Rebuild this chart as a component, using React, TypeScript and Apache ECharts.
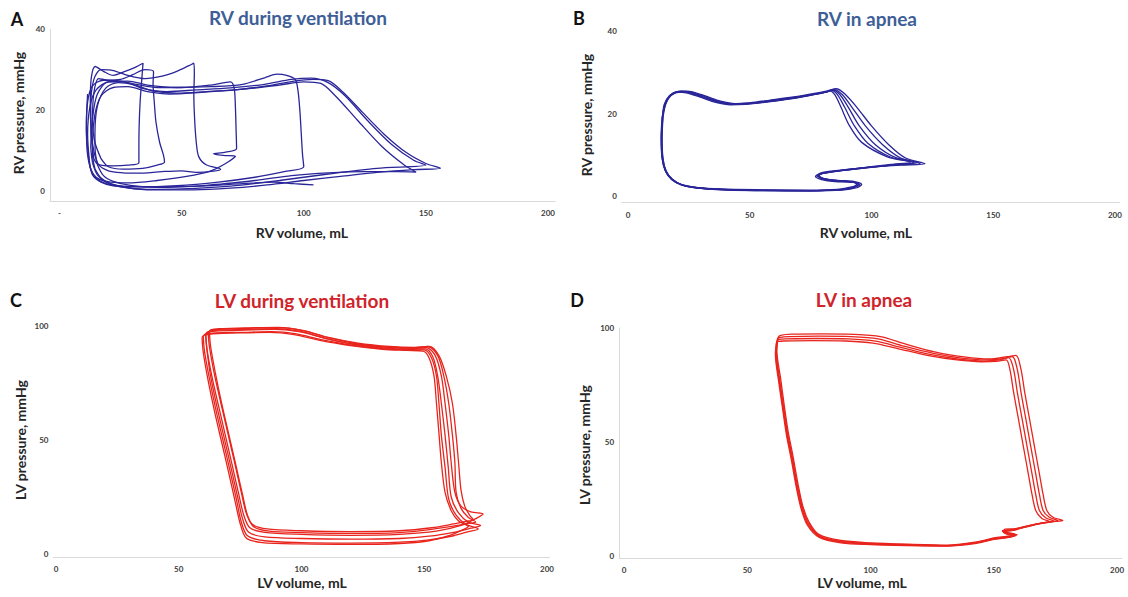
import React, { useEffect, useRef } from "react";
import * as echarts from "echarts";

// ---------- Panel A: RV during ventilation (volume mL, pressure mmHg) ----------
const rvVent1: number[][] = [[14.5,5.5],[17,3.2],[21,1.8],[28,0.8],[38,0.3],[55,0.3],[70,0.7],[85,1.5],[100,2.6],[115,3.6],[130,4.6],[145,5.3],[156,5.6],[150,6.8],[142,9.5],[133,14],[124,19.5],[116,24.5],[110,27.3],[104,27.6],[96,27.2],[85,26],[72,25],[58,24.4],[45,24],[36,24.6],[28,25.8],[22,25.6],[17,23.5],[14.5,19],[13.5,12],[13.5,9],[14.5,5.5]];
const rvVent2: number[][] = [[15.5,6.5],[18,3.8],[22,2.4],[29,1.4],[40,0.9],[60,1.4],[80,2.6],[95,3.8],[110,4.5],[125,4.8],[138,4.8],[146,4.7],[141,6.5],[132,11],[122,17.5],[113,23.5],[107,26.6],[100,27],[90,26.2],[75,25.2],[60,24.6],[48,24.2],[38,24.8],[30,26.4],[24,26.8],[19,25.5],[15.5,21],[14.5,14],[14.6,10],[15.5,6.5]];
const rvVent3: number[][] = [[13.5,7],[15.5,4],[19,2.2],[25,1],[35,0.4],[50,0.5],[70,1.2],[90,2.6],[110,4.2],[130,5.6],[150,6.4],[145,7.6],[136,11.5],[126,17.5],[117,23.5],[110,26.8],[103,27.9],[95,27.6],[84,26.4],[70,25.5],[56,25],[44,24.6],[34,25.4],[26,27],[20,27],[15.5,24],[13.5,18],[12.8,11],[13.5,7]];
const rvVent4: number[][] = [[12.3,7],[13.5,4],[17,2.2],[22,1.3],[32,1],[48,1.3],[65,2.2],[80,3.4],[92,4.8],[100,6],[99.5,9],[99,14],[98.4,20],[97.6,25],[96.5,27.6],[93,28.6],[89,28.9],[84,28],[75,26.4],[62,25.8],[48,25.6],[36,26.2],[28,27.2],[20,27],[15,25],[12.5,21],[11.5,14],[12.3,7]];
const rvVent5: number[][] = [[11.8,9],[13,5],[16,3],[21,2.2],[28,2],[40,2.6],[52,3.6],[62,5],[68,6.8],[72,8.6],[67,8.8],[63,9.2],[68,9.6],[72.5,10.5],[72.3,15],[72,21],[71.5,25.5],[70,27],[62,26.2],[50,25.6],[40,25.6],[32,26.3],[25,27.2],[18,27.4],[13.5,26],[11.5,22],[11,15],[11.8,9]];
const rvVent6: number[][] = [[14,10],[16,6.5],[20,5],[26,4.5],[32,4.4],[42,4.8],[50,5],[56,4.6],[63,4.9],[66,5.4],[60,6.5],[57,8.5],[56,12],[55.3,18],[55,24],[55.2,29],[55,31.6],[53,31],[48,29.6],[42,28.4],[35,27.8],[28,28.6],[22,29.8],[17,30],[14,27.5],[12.8,21],[13,14],[14,10]];
const rvVent7: number[][] = [[17,8],[20,6],[26,5.4],[34,5.6],[40,6.4],[43,7.2],[42.5,9],[41,12],[39.5,17],[38.8,22],[38.3,26.5],[38.5,29.5],[35,30],[30,28.8],[25,27.6],[20,27.4],[16,27.8],[14,24],[13.5,17],[14.5,12],[17,8]];
const rvVent8: number[][] = [[14,8],[16,6.5],[22,6.2],[28,6.4],[32.5,7],[32.5,10],[32.6,16],[33,22],[33.6,27],[34.2,31.6],[31,30.6],[26,29.4],[22,28.6],[18,29.6],[14.6,30.8],[13,28],[12.6,22],[13,14],[14,8]];
const rvVentTail: number[][] = [[11.5,24],[11,17],[11.3,10],[12.5,6],[15,3.2],[19,1.8],[26,1.2],[40,1],[58,1.2],[75,1.8],[88,2.2],[96,1.8],[104,1.5]];

// ---------- Panel B: RV in apnea ----------
const rvApnea1: number[][] = [[14.2,19],[13.8,14],[14.2,9],[15.5,6],[18,4],[22,2.7],[28,2],[38,1.5],[55,1.3],[75,1.2],[88,1.4],[94,2],[96,2.8],[93,3.5],[86,3.8],[80,4.3],[77.5,5],[80,5.7],[88,6.3],[100,7],[112,7.5],[122,7.8],[114,9.2],[107,12.5],[100,17],[94,21.5],[89,24.8],[85.5,26],[82,25.5],[76,24.8],[68,24],[58,23.2],[50,22.6],[44,22.4],[38,23],[32,24.2],[26,25.3],[22,25.5],[18,24.6],[15.5,22.5],[14.2,19]];
const rvApnea2: number[][] = [[14.4,19.2],[14,14],[14.4,9],[15.7,6],[18.3,4],[22.5,2.6],[29,1.9],[40,1.5],[56,1.3],[75,1.3],[87,1.5],[93,2.1],[95,2.9],[92,3.4],[86,3.6],[80.5,4.2],[78.5,4.9],[81,5.6],[89,6.3],[101,7.1],[112,7.6],[120,7.9],[112,9.2],[104.5,12.5],[97.5,17],[92,21.5],[88,24.6],[84.8,25.8],[81.5,25.2],[75.5,24.6],[67.5,23.8],[57.5,23],[49.5,22.5],[43.5,22.3],[37.5,22.9],[31.5,24.1],[25.5,25.2],[21.5,25.3],[17.8,24.5],[15.6,22.4],[14.4,19.2]];
const rvApnea3: number[][] = [[14,19],[13.6,14.2],[14,9.2],[15.3,6.2],[17.8,4.2],[21.8,2.8],[28,2.1],[38,1.7],[55,1.5],[74,1.4],[86,1.6],[92,2.2],[95.5,2.6],[93,3.3],[85,3.5],[79.5,4],[77,4.7],[79.5,5.4],[87,6.1],[99,6.9],[110,7.6],[119,8.1],[110,9.3],[101.5,12.5],[95,17],[90.5,21.5],[87,24.6],[84.2,25.7],[81,25.1],[75,24.5],[67,23.7],[57,22.9],[49,22.4],[43,22.2],[37,22.8],[31,24],[25,25.1],[21,25.2],[17.5,24.3],[15.3,22.2],[14,19]];
const rvApnea4: number[][] = [[14.3,19.1],[13.9,14.1],[14.3,9.1],[15.6,6.1],[18.1,4.1],[22.2,2.7],[28.5,2],[39,1.6],[55,1.4],[74,1.3],[86.5,1.5],[92.5,2],[94.5,2.7],[91.5,3.4],[85.5,3.7],[80,4.2],[78,4.9],[80.5,5.6],[88.5,6.2],[100,7],[110,7.6],[117.5,8.1],[108,9.4],[98.5,12.8],[93,17],[89,21.5],[86,24.6],[83.6,25.6],[80.5,25.1],[74.5,24.4],[66.5,23.6],[56.5,22.8],[48.5,22.3],[42.5,22.2],[36.5,22.8],[30.5,24],[24.5,25.1],[20.5,25.3],[17.3,24.4],[15.1,22.3],[14.3,19.1]];
const rvApnea5: number[][] = [[14.1,18.9],[13.7,14],[14.1,9],[15.4,6],[17.9,4],[21.9,2.7],[28.2,2],[38.5,1.6],[55.5,1.4],[74.5,1.3],[86,1.5],[92,2.1],[94,2.9],[91,3.5],[85,3.8],[79.8,4.3],[78.2,5],[81,5.6],[89,6.3],[100,7.1],[109,7.7],[116,8.2],[106.5,9.5],[96,13],[91,17],[87.5,21.5],[85,24.5],[83,25.5],[80,25],[74,24.3],[66,23.5],[56,22.7],[48,22.2],[42,22.1],[36,22.7],[30,23.9],[24,25],[20,25.2],[17,24.3],[14.9,22.2],[14.1,18.9]];

// ---------- Panel C: LV during ventilation ----------
const lvVent1: number[][] = [[61,96.5],[61.5,90],[63.5,78],[66,66],[69,52],[72,38],[74.5,26],[76.5,17],[79,11.5],[85,9.5],[100,8.6],[120,8.2],[140,8.6],[155,10],[165,12.5],[171,15.5],[174,17.5],[169,18.5],[165,21],[162.5,27],[161,40],[160,52],[158.5,66],[157,78],[154.5,87],[151,90.5],[145,90.2],[135,90.6],[122,92],[110,94.5],[100,97.5],[90,98.8],[78,98.5],[66,98.2],[62,97.5],[61,96.5]];
const lvVent2: number[][] = [[60,95.5],[60.5,89],[62.5,77],[65,64],[68,50],[71,36],[73.5,24],[75.5,14],[78,8],[85,5.8],[100,5],[120,4.8],[140,5.2],[152,6.2],[162,8],[168,9.8],[172,11],[167,13],[163,17],[160,24],[158.5,38],[157,52],[156,66],[155,78],[153,86],[150,89.5],[144,89.6],[134,90],[121,91.5],[108,94],[98,96.5],[88,97.5],[76,97.2],[65,97],[61,96.5],[60,95.5]];
const lvVent3: number[][] = [[62,97],[62.5,91],[64.5,79],[67,67],[70,53],[73,39],[75.5,27],[77.5,18],[80,13],[86,11],[100,10.2],[120,9.8],[140,10.2],[153,11.5],[162,13.2],[167,14.3],[170,15],[168.5,17],[166.5,21],[165,28],[164,40],[163,52],[161.5,66],[159,78],[156,87],[152,91],[146,90.6],[136,91],[123,92.5],[111,95],[101,98],[91,99.3],[79,99],[67,98.5],[63,98],[62,97]];
const lvVent4: number[][] = [[61,96],[61.5,89.5],[63,78],[65.5,65],[68.5,51],[71.5,37],[74,25],[76,15.5],[78.5,9.5],[85,7.5],[100,6.8],[120,6.5],[140,6.8],[152,7.8],[162,9.5],[169,11.3],[173,12.5],[168,14],[164,18],[161,25],[159.8,38],[158.5,52],[157,66],[155.5,78],[153.5,86.5],[150.5,90],[144,89.8],[134,90.3],[121,92],[109,94.8],[99,97.5],[89,98.5],[77,98.2],[65,97.8],[61.5,97],[61,96]];
const lvVent5: number[][] = [[59.5,95],[60,88.5],[62,76],[64.5,63],[67.5,49],[70.5,35],[73,23],[75,13.5],[77.5,7],[84,5],[100,4.4],[120,4.2],[140,4.6],[152,5.8],[160,8],[165,10.3],[168,12],[164,14.5],[161,19],[158.5,27],[157,40],[156,53],[155,66],[154,78],[152,86],[149.5,89],[143,89.3],[133,89.8],[120,91.4],[107,93.8],[97,96.2],[87,97.2],[75,97],[64,96.6],[60.5,96],[59.5,95]];
const lvVent6: number[][] = [[62.5,97.5],[63,91],[65,79],[67.5,66],[70.5,52],[73.5,38],[76,26],[78,17],[80.5,12],[87,10],[100,9.4],[120,9],[140,9.4],[153,10.8],[163,12.4],[168,13.4],[171,14],[168,16],[165,20],[163,27],[162.5,40],[161.5,52],[160,66],[158,78],[155.5,87],[151.5,91],[145.5,90.4],[135.5,90.8],[122.5,92.3],[110.5,95],[100.5,98],[90.5,99.4],[78.5,99.2],[66.5,98.8],[63,98.3],[62.5,97.5]];

// ---------- Panel D: LV in apnea ----------
const lvApnea1: number[][] = [[62.5,96],[62,90],[63.5,78],[65,66],[66.5,55],[68.5,44],[70.5,32],[72.5,22],[75,15],[79,9.5],[88,6.8],[100,5.8],[115,5.2],[131,4.8],[143,6.2],[150,7.9],[155,8.6],[159.5,9.3],[155,10.4],[153.5,11.2],[158,11.5],[161,12.3],[168,14],[173,15],[178,15.6],[174,17],[171.5,20],[170,27],[168.5,36],[166.5,48],[164.5,60],[162.5,72],[161,82],[159,88],[155.5,87.4],[148,86.4],[138,87.3],[126,89.5],[114,93],[104,96.2],[93,97.2],[80,97.4],[68,97.3],[63.5,96.8],[62.5,96]];
const lvApnea2: number[][] = [[62.2,95.2],[61.8,89.5],[63.2,77],[64.8,65],[66.3,54],[68.3,43],[70.3,31],[72.3,21.5],[74.8,14.5],[79,9],[88,6.4],[100,5.5],[115,5],[131,4.6],[143,6],[150,7.7],[155.5,8.4],[158.5,9.6],[154,10.6],[154.5,11.8],[159,11.9],[162,12.8],[168,14.2],[172,14.9],[176,15.5],[172.5,17],[170,20],[168.5,27],[167,36],[165,48],[163,60],[161,72],[159.5,82],[157.5,87.5],[154,86.6],[147,86],[137,86.8],[125,89],[113,92.2],[103,95.2],[92,96.2],[79,96.4],[67,96.2],[63,95.8],[62.2,95.2]];
const lvApnea3: number[][] = [[62,94.4],[61.6,89],[63,76.5],[64.6,64.5],[66.1,53.5],[68.1,42.5],[70.1,30.5],[72.1,21],[74.6,14],[79,8.7],[88,6.1],[100,5.2],[115,4.8],[131,4.5],[143,5.8],[150,7.5],[156,8.2],[159,9],[154.5,10],[153.5,11],[157.5,11.6],[161,12.5],[167,14],[171,14.8],[174.5,15.3],[171,16.8],[168.5,20],[167,27],[165.5,36],[163.5,48],[161.5,60],[159.5,72],[158,82],[156,87],[152.5,86],[146,85.5],[136,86.3],[124,88.4],[112,91.6],[102,94.2],[91,95.2],[78,95.4],[66,95.2],[62.8,95],[62,94.4]];
const lvApnea4: number[][] = [[61.8,93.6],[61.4,88.5],[62.8,76],[64.4,64],[65.9,53],[67.9,42],[69.9,30],[71.9,20.5],[74.4,13.5],[79,8.3],[88,5.8],[100,5],[115,4.6],[131,4.4],[143,5.6],[150,7.3],[155,8],[158,8.8],[155,9.7],[154,10.6],[158,11.2],[160.5,12],[166,13.6],[170,14.5],[173,15],[169.5,16.5],[167,20],[165.5,27],[164,36],[162,48],[160,60],[158,72],[156.5,82],[155,86],[151,85.4],[145,85.2],[135,86],[123,88],[111,91],[101,93.4],[90,94.3],[77,94.5],[65,94.3],[62.5,94.1],[61.8,93.6]];

// ---------- Tick labels ----------
const volumeTicks = [0, 50, 100, 150, 200];
const rvPressureTicks = [0, 20, 40];
const lvPressureTicks = [0, 50, 100];

const FONT = "Lato, 'Open Sans', sans-serif";
const RV_LINE = "#2a2699";
const LV_LINE = "#e8241d";
const RV_TITLE = "#3e5e97";
const LV_TITLE = "#d0242a";

export default function App() {
  const ref = useRef<HTMLDivElement>(null);

  useEffect(() => {
    if (!ref.current) return;
    const chart = echarts.init(ref.current, null, { renderer: "svg" });

    const panels = [
      {
        cycles: [rvVent1, rvVent2, rvVent3, rvVent4, rvVent5, rvVent6, rvVent7, rvVent8, rvVentTail],
        color: RV_LINE,
        grid: { left: 50, top: 29.3, width: 505.3, height: 171.8 },
        x: [-3.9, 203], y: [-2.5, 40], yTicks: rvPressureTicks, zeroDash: true, showY: true,
      },
      {
        cycles: [rvApnea1, rvApnea2, rvApnea3, rvApnea4, rvApnea5],
        color: RV_LINE,
        grid: { left: 621.9, top: 31, width: 497.9, height: 171.6 },
        x: [-2.5, 202], y: [-1.6, 40], yTicks: rvPressureTicks, zeroDash: false, showY: false,
      },
      {
        cycles: [lvVent1, lvVent2, lvVent3, lvVent4, lvVent5, lvVent6],
        color: LV_LINE,
        grid: { left: 53.5, top: 326, width: 495.9, height: 231.4 },
        x: [-1, 201], y: [-1.5, 100], yTicks: lvPressureTicks, zeroDash: false, showY: false,
      },
      {
        cycles: [lvApnea1, lvApnea2, lvApnea3, lvApnea4],
        color: LV_LINE,
        grid: { left: 619.1, top: 328, width: 502.9, height: 230.3 },
        x: [-2, 202], y: [-1, 100], yTicks: lvPressureTicks, zeroDash: false, showY: true,
      },
    ];

    const tickLabel = {
      fontSize: 8,
      fontWeight: "bold" as const,
      color: "#3c3c3c",
      fontFamily: FONT,
    };

    const series: any[] = [];
    panels.forEach((p, i) => {
      p.cycles.forEach((c) => {
        series.push({
          type: "line",
          xAxisIndex: i,
          yAxisIndex: i,
          data: c,
          showSymbol: false,
          symbol: "none",
          smooth: 0.3,
          silent: true,
          lineStyle: { color: p.color, width: 1.3 },
        });
      });
    });

    const txt = (x: number, y: number, text: string, font: string, fill: string, rotation = 0) => ({
      type: "text",
      x,
      y,
      rotation,
      silent: true,
      style: {
        text,
        font,
        fill,
        align: "center",
        verticalAlign: "middle",
        textAlign: "center",
        textVerticalAlign: "middle",
      },
    });

    const option: any = {
      animation: false,
      backgroundColor: "#ffffff",
      grid: panels.map((p) => ({ ...p.grid, containLabel: false })),
      xAxis: panels.map((p, i) => ({
        type: "value",
        gridIndex: i,
        min: p.x[0],
        max: p.x[1],
        axisLine: { show: true, onZero: false, lineStyle: { color: "#d9d9d9", width: 1 } },
        axisTick: { show: false },
        splitLine: { show: false },
        axisLabel: {
          ...tickLabel,
          margin: 8,
          customValues: volumeTicks,
          formatter: (v: number) => (p.zeroDash && v === 0 ? "-" : String(v)),
        },
      })),
      yAxis: panels.map((p, i) => ({
        type: "value",
        gridIndex: i,
        min: p.y[0],
        max: p.y[1],
        axisLine: { show: p.showY, onZero: false, lineStyle: { color: "#d9d9d9", width: 1 } },
        axisTick: { show: false },
        splitLine: { show: false },
        axisLabel: {
          ...tickLabel,
          margin: 5,
          customValues: p.yTicks,
          formatter: (v: number) => String(v),
        },
      })),
      series,
      graphic: [
        txt(17, 19, "A", `bold 18px ${FONT}`, "#111111"),
        txt(579, 18, "B", `bold 18px ${FONT}`, "#111111"),
        txt(16, 300, "C", `bold 18px ${FONT}`, "#111111"),
        txt(577, 300, "D", `bold 18px ${FONT}`, "#111111"),
        txt(298, 17, "RV during ventilation", `bold 19px ${FONT}`, RV_TITLE),
        txt(867, 18, "RV in apnea", `bold 19px ${FONT}`, RV_TITLE),
        txt(302, 300, "LV during ventilation", `bold 19px ${FONT}`, LV_TITLE),
        txt(864, 299, "LV in apnea", `bold 19px ${FONT}`, LV_TITLE),
        txt(302, 232, "RV volume, mL", `bold 14px ${FONT}`, "#262626"),
        txt(866, 232, "RV volume, mL", `bold 14px ${FONT}`, "#262626"),
        txt(302, 582, "LV volume, mL", `bold 14px ${FONT}`, "#262626"),
        txt(862, 582, "LV volume, mL", `bold 14px ${FONT}`, "#262626"),
        txt(18, 113, "RV pressure, mmHg", `bold 14px ${FONT}`, "#262626", Math.PI / 2),
        txt(586, 115, "RV pressure, mmHg", `bold 14px ${FONT}`, "#262626", Math.PI / 2),
        txt(20, 440, "LV pressure, mmHg", `bold 14px ${FONT}`, "#262626", Math.PI / 2),
        txt(584, 445, "LV pressure, mmHg", `bold 14px ${FONT}`, "#262626", Math.PI / 2),
      ],
    };

    chart.setOption(option);
    return () => chart.dispose();
  }, []);

  return (
    <div
      ref={ref}
      style={{ position: "fixed", left: 0, top: 0, width: 1128, height: 597, background: "#ffffff" }}
    />
  );
}
